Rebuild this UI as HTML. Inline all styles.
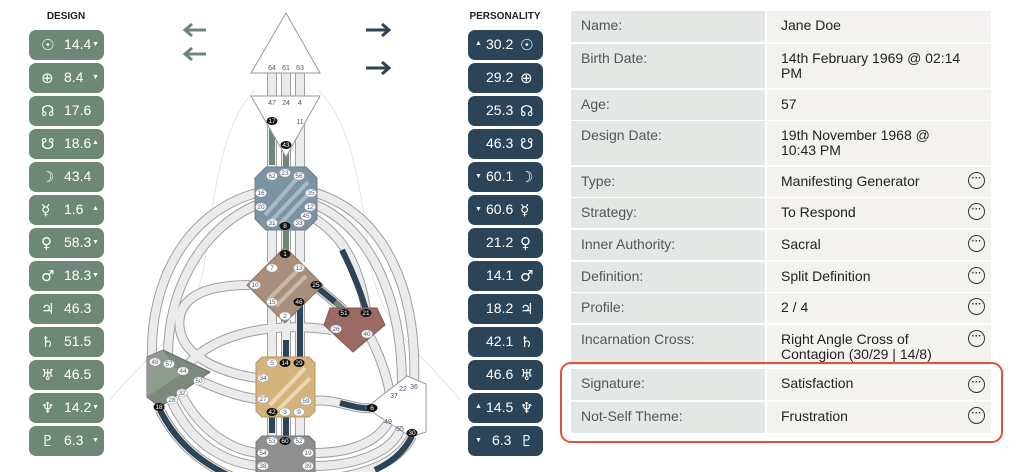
<!DOCTYPE html>
<html><head><meta charset="utf-8">
<style>
*{margin:0;padding:0;box-sizing:border-box}
body{width:1024px;height:472px;background:#fff;position:relative;overflow:hidden;font-family:"Liberation Sans","DejaVu Sans",sans-serif}
.h{position:absolute;top:11px;font-size:10px;font-weight:bold;color:#222;text-align:center}
.p{position:absolute;width:75px;height:30px;border-radius:7px;color:#fff;font-size:14px}
.p span{position:absolute;top:6px}
.g{background:#6d8876;left:29px}
.d{background:#2b4458;left:468px}
.sym{font-family:"DejaVu Sans",sans-serif;font-size:15px}
.ar{font-size:7px}
.c{position:absolute;font-size:14px;line-height:15px;padding:7px 0 0 10px}
.l{left:571px;width:194px;background:#e3e8e5;color:#555}
.v{left:767px;width:224px;background:#f4f2ef;color:#222;padding-left:14px}
.ic{position:absolute;left:968px;width:17px;height:17px;border:1.5px solid #333;border-radius:50%;font-size:10px;line-height:11px;text-align:center;color:#333;font-weight:bold}
</style></head><body>
<div class="h" style="left:36px;width:60px">DESIGN</div>
<div class="h" style="left:465px;width:80px">PERSONALITY</div>

<div class="p g" style="top:30px"><span class="sym" style="left:12px">☉</span><span style="left:35px">14.4</span><span class="ar" style="left:63px;top:11px">▼</span></div>
<div class="p g" style="top:63px"><span class="sym" style="left:12px">⊕</span><span style="left:35px">8.4</span><span class="ar" style="left:63px;top:11px">▼</span></div>
<div class="p g" style="top:96px"><span class="sym" style="left:12px">☊</span><span style="left:35px">17.6</span></div>
<div class="p g" style="top:129px"><span class="sym" style="left:12px">☋</span><span style="left:35px">18.6</span><span class="ar" style="left:63px;top:10px">▲</span></div>
<div class="p g" style="top:162px"><span class="sym" style="left:12px">☽</span><span style="left:35px">43.4</span></div>
<div class="p g" style="top:195px"><span class="sym" style="left:12px">☿</span><span style="left:35px">1.6</span><span class="ar" style="left:63px;top:10px">▲</span></div>
<div class="p g" style="top:228px"><span class="sym" style="left:12px">♀</span><span style="left:35px">58.3</span><span class="ar" style="left:63px;top:11px">▼</span></div>
<div class="p g" style="top:261px"><span class="sym" style="left:12px">♂</span><span style="left:35px">18.3</span><span class="ar" style="left:63px;top:11px">▼</span></div>
<div class="p g" style="top:294px"><span class="sym" style="left:12px">♃</span><span style="left:35px">46.3</span></div>
<div class="p g" style="top:327px"><span class="sym" style="left:12px">♄</span><span style="left:35px">51.5</span></div>
<div class="p g" style="top:360px"><span class="sym" style="left:12px">♅</span><span style="left:35px">46.5</span></div>
<div class="p g" style="top:393px"><span class="sym" style="left:12px">♆</span><span style="left:35px">14.2</span><span class="ar" style="left:63px;top:11px">▼</span></div>
<div class="p g" style="top:426px"><span class="sym" style="left:12px">♇</span><span style="left:35px">6.3</span><span class="ar" style="left:63px;top:11px">▼</span></div>

<div class="p d" style="top:30px"><span class="ar" style="left:7px;top:10px">▲</span><span style="left:18px">30.2</span><span class="sym" style="left:52px">☉</span></div>
<div class="p d" style="top:63px"><span style="left:18px">29.2</span><span class="sym" style="left:52px">⊕</span></div>
<div class="p d" style="top:96px"><span style="left:18px">25.3</span><span class="sym" style="left:52px">☊</span></div>
<div class="p d" style="top:129px"><span style="left:18px">46.3</span><span class="sym" style="left:52px">☋</span></div>
<div class="p d" style="top:162px"><span class="ar" style="left:7px;top:11px">▼</span><span style="left:18px">60.1</span><span class="sym" style="left:52px">☽</span></div>
<div class="p d" style="top:195px"><span class="ar" style="left:7px;top:11px">▼</span><span style="left:18px">60.6</span><span class="sym" style="left:52px">☿</span></div>
<div class="p d" style="top:228px"><span style="left:18px">21.2</span><span class="sym" style="left:52px">♀</span></div>
<div class="p d" style="top:261px"><span style="left:18px">14.1</span><span class="sym" style="left:52px">♂</span></div>
<div class="p d" style="top:294px"><span style="left:18px">18.2</span><span class="sym" style="left:52px">♃</span></div>
<div class="p d" style="top:327px"><span style="left:18px">42.1</span><span class="sym" style="left:52px">♄</span></div>
<div class="p d" style="top:360px"><span style="left:18px">46.6</span><span class="sym" style="left:52px">♅</span></div>
<div class="p d" style="top:393px"><span class="ar" style="left:7px;top:10px">▲</span><span style="left:18px">14.5</span><span class="sym" style="left:52px">♆</span></div>
<div class="p d" style="top:426px"><span class="ar" style="left:7px;top:11px">▼</span><span style="left:24px">6.3</span><span class="sym" style="left:52px">♇</span></div>

<svg style="position:absolute;left:0;top:0" width="560" height="472" viewBox="0 0 560 472">
<g stroke-width="3" fill="none" stroke-linecap="butt">
<path d="M206,30H186M192,24L185,30L192,36" stroke="#6d8876"/>
<path d="M206,54H186M192,48L185,54L192,60" stroke="#6d8876"/>
<path d="M366,30H388M382,24L389,30L382,36" stroke="#2b4458"/>
<path d="M366,68H388M382,62L389,68L382,74" stroke="#2b4458"/>
</g>
<g fill="none" stroke="#e4e4e4" stroke-width="1">
<path d="M255,90 C225,120 215,180 205,260 C195,330 150,350 110,400"/>
<path d="M318,90 C350,120 360,180 370,260 C380,330 420,350 460,400"/>
</g>
<g id="ch" fill="none" stroke-linecap="butt">
<g stroke="#a0a0a0" stroke-width="10">
<path d="M272,73V96M286,73V96M300,73V96M272,121V167M286,145V167M300,121V167M272,226V262M286,226V250M300,226V262M272,302V360M286,320V360M300,302V360M272,415V440M286,415V440M300,415V440"/>
<path d="M256,193 C180,215 150,290 152,357"/>
<path d="M256,205 C200,230 168,290 168,357"/>
<path d="M316,193 C385,215 418,290 414,385"/>
<path d="M316,205 C372,230 402,300 402,385"/>
<path d="M310,216 C345,235 360,270 366,310"/>
<path d="M250,285 C200,285 175,300 180,330 C185,360 230,375 258,378"/>
<path d="M332,330 C280,322 215,330 185,368"/>
<path d="M318,288 L344,310"/>
<path d="M200,381 C225,392 245,398 258,399"/>
<path d="M313,401 C335,398 355,410 370,408"/>
<path d="M370,337 C380,355 388,380 390,395"/>
<path d="M160,410 C175,440 200,465 240,480"/>
<path d="M172,402 C190,440 220,462 258,466"/>
<path d="M182,395 C200,430 230,450 258,453"/>
<path d="M412,436 C400,460 370,475 320,480"/>
<path d="M400,430 C390,455 350,466 314,466"/>
<path d="M388,423 C375,445 345,453 314,453"/>
</g>
<g stroke="#ebebeb" stroke-width="8">
<path d="M272,73V96M286,73V96M300,73V96M272,121V167M286,145V167M300,121V167M272,226V262M286,226V250M300,226V262M272,302V360M286,320V360M300,302V360M272,415V440M286,415V440M300,415V440"/>
<path d="M256,193 C180,215 150,290 152,357"/>
<path d="M256,205 C200,230 168,290 168,357"/>
<path d="M316,193 C385,215 418,290 414,385"/>
<path d="M316,205 C372,230 402,300 402,385"/>
<path d="M310,216 C345,235 360,270 366,310"/>
<path d="M250,285 C200,285 175,300 180,330 C185,360 230,375 258,378"/>
<path d="M332,330 C280,322 215,330 185,368"/>
<path d="M318,288 L344,310"/>
<path d="M200,381 C225,392 245,398 258,399"/>
<path d="M313,401 C335,398 355,410 370,408"/>
<path d="M370,337 C380,355 388,380 390,395"/>
<path d="M160,410 C175,440 200,465 240,480"/>
<path d="M172,402 C190,440 220,462 258,466"/>
<path d="M182,395 C200,430 230,450 258,453"/>
<path d="M412,436 C400,460 370,475 320,480"/>
<path d="M400,430 C390,455 350,466 314,466"/>
<path d="M388,423 C375,445 345,453 314,453"/>
</g>
<g stroke-width="6">
<path d="M272,125V165M286,150V167M286,228V250" stroke="#6d8876"/>
<path d="M300,305V360M286,340V360M272,417V433M286,417V436" stroke="#2b4458"/>
<path d="M342,250 C352,270 360,290 366,310" stroke="#2b4458"/>
<path d="M318,288 L335,302" stroke="#2b4458"/>
<path d="M335,302 L344,310" stroke="#6d8876"/>
<path d="M340,403 C352,406 362,409 370,408" stroke="#2b4458"/>
<path d="M160,410 C175,440 200,465 240,480" stroke="#2b4458"/>
<path d="M412,436 C404,452 392,462 375,470" stroke="#2b4458"/>
</g>
</g>
<polygon points="286,13 320,73 251,73" fill="#fff" stroke="#999"/>
<polygon points="251,96 320,96 286,157" fill="#fff" stroke="#999"/>
<polygon points="266,167 306,167 317,178 317,219 306,230 266,230 255,219 255,178" fill="#7c93a4" stroke="#6a7f8e"/>
<path d="M265,215 L300,175 M272,220 L308,182 M280,224 L312,190" stroke="#a9bac6" stroke-width="4"/>
<polygon points="285,247 323,285 285,323 247,285" fill="#a78f7b" stroke="#8a7563"/>
<path d="M268,300 L300,268 M276,306 L306,276" stroke="#c9b8a7" stroke-width="4"/>
<polygon points="330,308 377,308 385,325 353,352 324,325" fill="#9b6a64" stroke="#855650"/>
<polygon points="147,357 163,350 210,372 160,407 147,397" fill="#7b8a7b" stroke="#5e6b5e"/>
<polygon points="147,357 163,350 180,375 147,397" fill="#8e9c8e"/>
<polygon points="262,357 309,357 315,363 315,411 309,417 262,417 256,411 256,363" fill="#d5b37c" stroke="#b8965e"/>
<path d="M270,405 L305,368 M278,410 L310,378" stroke="#ead6b3" stroke-width="4"/>
<polygon points="407,376 426,384 426,432 411,437 366,408" fill="#fff" stroke="#999"/>
<polygon points="262,436 309,436 315,442 315,480 256,480 256,442" fill="#8f8f8f" stroke="#777"/>
<g font-size="7" fill="#4a5a70" text-anchor="middle">
<text x="272" y="70">64</text><text x="286" y="70">61</text><text x="300" y="70">63</text>
<text x="272" y="105">47</text><text x="286" y="105">24</text><text x="300" y="105">4</text>
<text x="300" y="124">11</text>
<text x="394" y="398">37</text><text x="403" y="391">22</text><text x="414" y="389">36</text>
<text x="388" y="424">49</text><text x="400" y="431">55</text>
</g>
<g font-size="6.5" text-anchor="middle">
<g fill="#fff" stroke="#aaa" stroke-width="0.6">
<ellipse cx="272" cy="176" rx="5.5" ry="4"/><ellipse cx="285" cy="173" rx="5.5" ry="4"/><ellipse cx="299" cy="176" rx="5.5" ry="4"/>
<ellipse cx="261" cy="193" rx="5.5" ry="4"/><ellipse cx="311" cy="193" rx="5.5" ry="4"/><ellipse cx="261" cy="207" rx="5.5" ry="4"/>
<ellipse cx="310" cy="207" rx="5.5" ry="4"/><ellipse cx="306" cy="216" rx="5.5" ry="4"/><ellipse cx="272" cy="223" rx="5.5" ry="4"/><ellipse cx="299" cy="223" rx="5.5" ry="4"/>
<ellipse cx="272" cy="268" rx="5.5" ry="4"/><ellipse cx="299" cy="268" rx="5.5" ry="4"/><ellipse cx="255" cy="285" rx="5.5" ry="4"/>
<ellipse cx="272" cy="302" rx="5.5" ry="4"/><ellipse cx="285" cy="316" rx="5.5" ry="4"/>
<ellipse cx="336" cy="329" rx="5.5" ry="4"/><ellipse cx="367" cy="334" rx="5.5" ry="4"/>
<ellipse cx="155" cy="362" rx="5.5" ry="4"/><ellipse cx="169" cy="364" rx="5.5" ry="4"/><ellipse cx="183" cy="371" rx="5.5" ry="4"/>
<ellipse cx="199" cy="381" rx="5.5" ry="4"/><ellipse cx="182" cy="393" rx="5.5" ry="4"/><ellipse cx="172" cy="400" rx="5.5" ry="4"/>
<ellipse cx="272" cy="363" rx="5.5" ry="4"/><ellipse cx="263" cy="378" rx="5.5" ry="4"/><ellipse cx="263" cy="399" rx="5.5" ry="4"/>
<ellipse cx="306" cy="401" rx="5.5" ry="4"/><ellipse cx="285" cy="412" rx="5.5" ry="4"/><ellipse cx="299" cy="412" rx="5.5" ry="4"/>
<ellipse cx="272" cy="441" rx="5.5" ry="4"/><ellipse cx="299" cy="441" rx="5.5" ry="4"/><ellipse cx="263" cy="453" rx="5.5" ry="4"/>
<ellipse cx="308" cy="453" rx="5.5" ry="4"/><ellipse cx="263" cy="466" rx="5.5" ry="4"/><ellipse cx="308" cy="466" rx="5.5" ry="4"/>
</g>
<g fill="#4a5a70">
<text x="272" y="178">62</text><text x="285" y="175">23</text><text x="299" y="178">56</text>
<text x="261" y="195">16</text><text x="311" y="195">35</text><text x="261" y="209">20</text>
<text x="310" y="209">12</text><text x="306" y="218">45</text><text x="272" y="225">31</text><text x="299" y="225">33</text>
<text x="272" y="270">7</text><text x="299" y="270">13</text><text x="255" y="287">10</text>
<text x="272" y="304">15</text><text x="285" y="318">2</text>
<text x="336" y="331">26</text><text x="367" y="336">40</text>
<text x="155" y="364">48</text><text x="169" y="366">57</text><text x="183" y="373">44</text>
<text x="199" y="383">50</text><text x="182" y="395">32</text><text x="172" y="402">28</text>
<text x="272" y="365">5</text><text x="263" y="380">34</text><text x="263" y="401">27</text>
<text x="306" y="403">59</text><text x="285" y="414">3</text><text x="299" y="414">9</text>
<text x="272" y="443">53</text><text x="299" y="443">52</text><text x="263" y="455">54</text>
<text x="308" y="455">19</text><text x="263" y="468">38</text><text x="308" y="468">39</text>
</g>
<g fill="#111">
<ellipse cx="272" cy="121" rx="5.5" ry="4"/><ellipse cx="286" cy="145" rx="5.5" ry="4"/><ellipse cx="285" cy="226" rx="5.5" ry="4"/>
<ellipse cx="285" cy="254" rx="5.5" ry="4"/><ellipse cx="316" cy="285" rx="5.5" ry="4"/><ellipse cx="299" cy="302" rx="5.5" ry="4"/>
<ellipse cx="344" cy="313" rx="5.5" ry="4"/><ellipse cx="366" cy="313" rx="5.5" ry="4"/><ellipse cx="159" cy="407" rx="5.5" ry="4"/>
<ellipse cx="285" cy="363" rx="5.5" ry="4"/><ellipse cx="299" cy="363" rx="5.5" ry="4"/><ellipse cx="272" cy="412" rx="5.5" ry="4"/>
<ellipse cx="372" cy="408" rx="5.5" ry="4"/><ellipse cx="412" cy="433" rx="5.5" ry="4"/><ellipse cx="285" cy="441" rx="5.5" ry="4"/>
</g>
<g fill="#fff">
<text x="272" y="123">17</text><text x="286" y="147">43</text><text x="285" y="228">8</text>
<text x="285" y="256">1</text><text x="316" y="287">25</text><text x="299" y="304">46</text>
<text x="344" y="315">51</text><text x="366" y="315">21</text><text x="159" y="409">18</text>
<text x="285" y="365">14</text><text x="299" y="365">29</text><text x="272" y="414">42</text>
<text x="372" y="410">6</text><text x="412" y="435">30</text><text x="285" y="443">60</text>
</g>
</g>
</svg>

<div class="c l" style="top:11px;height:31px">Name:</div><div class="c v" style="top:11px;height:31px">Jane Doe</div>
<div class="c l" style="top:44px;height:44px">Birth Date:</div><div class="c v" style="top:44px;height:44px">14th February 1969 @ 02:14<br>PM</div>
<div class="c l" style="top:90px;height:30px">Age:</div><div class="c v" style="top:90px;height:30px">57</div>
<div class="c l" style="top:121px;height:44px">Design Date:</div><div class="c v" style="top:121px;height:44px">19th November 1968 @<br>10:43 PM</div>
<div class="c l" style="top:167px;height:30px">Type:</div><div class="c v" style="top:167px;height:30px">Manifesting Generator</div>
<div class="c l" style="top:198px;height:30px">Strategy:</div><div class="c v" style="top:198px;height:30px">To Respond</div>
<div class="c l" style="top:230px;height:30px">Inner Authority:</div><div class="c v" style="top:230px;height:30px">Sacral</div>
<div class="c l" style="top:262px;height:30px">Definition:</div><div class="c v" style="top:262px;height:30px">Split Definition</div>
<div class="c l" style="top:293px;height:30px">Profile:</div><div class="c v" style="top:293px;height:30px">2 / 4</div>
<div class="c l" style="top:325px;height:40px">Incarnation Cross:</div><div class="c v" style="top:325px;height:40px">Right Angle Cross of<br>Contagion (30/29 | 14/8)</div>
<div class="c l" style="top:369px;height:31px">Signature:</div><div class="c v" style="top:369px;height:31px">Satisfaction</div>
<div class="c l" style="top:402px;height:31px">Not-Self Theme:</div><div class="c v" style="top:402px;height:31px">Frustration</div>
<div class="ic" style="top:172px">···</div>
<div class="ic" style="top:203px">···</div>
<div class="ic" style="top:235px">···</div>
<div class="ic" style="top:267px">···</div>
<div class="ic" style="top:298px">···</div>
<div class="ic" style="top:330px">···</div>
<div class="ic" style="top:376px">···</div>
<div class="ic" style="top:407px">···</div>
<div style="position:absolute;left:560px;top:362px;width:443px;height:81px;border:2px solid #e0533a;border-radius:11px"></div>
</body></html>
